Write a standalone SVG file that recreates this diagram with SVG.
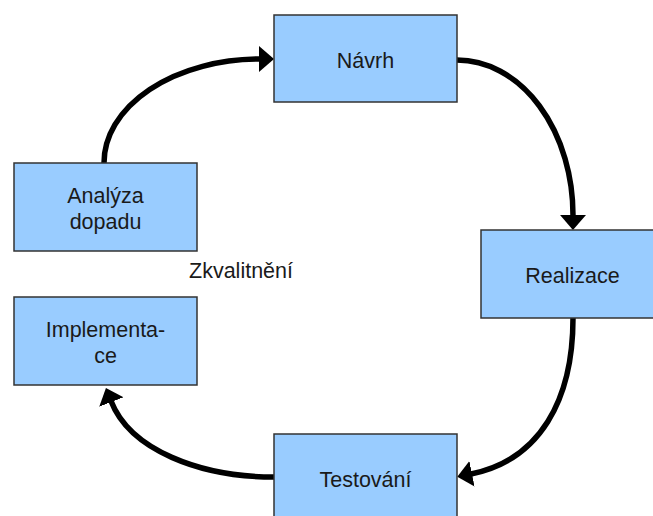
<svg xmlns="http://www.w3.org/2000/svg" width="653" height="516" viewBox="0 0 653 516">
<style>
.box{fill:#99ccff;stroke:#333;stroke-width:1.5}
.t{font-family:"Liberation Sans",Arial,sans-serif;font-size:21.5px;fill:#1a1a1a;text-anchor:middle}
.c{fill:none;stroke:#000;stroke-width:5.5}
</style>
<defs>
<marker id="ah" markerUnits="userSpaceOnUse" markerWidth="16" markerHeight="26" refX="1" refY="13" orient="auto" viewBox="0 0 16 26">
<path d="M0,0 L15,13 L0,26 z" fill="#000"/>
</marker>
</defs>
<rect width="653" height="516" fill="#fff"/>
<g id="connectors">
<path class="c" d="M104,163 A156,104 0 0 1 260,59" marker-end="url(#ah)"/>
<path class="c" d="M457,60 A116,155 0 0 1 573,216" marker-end="url(#ah)"/>
<path class="c" d="M573,318 C573,400 540,460 471,474" marker-end="url(#ah)"/>
<path class="c" d="M274,477 C200,477 130,450 111,401" marker-end="url(#ah)"/>
</g>
<g id="navrh">
<rect class="box" x="274" y="15" width="183" height="87"/>
<text class="t" x="365.5" y="68">Návrh</text>
</g>
<g id="analyza">
<rect class="box" x="14" y="163" width="183" height="88"/>
<text class="t" x="105.5" y="203">Analýza</text>
<text class="t" x="105.5" y="229">dopadu</text>
</g>
<g id="realizace">
<rect class="box" x="481" y="230" width="183" height="88"/>
<text class="t" x="572.5" y="283">Realizace</text>
</g>
<g id="testovani">
<rect class="box" x="274" y="434" width="183" height="88"/>
<text class="t" x="365.5" y="487">Testování</text>
</g>
<g id="implementace">
<rect class="box" x="14" y="297" width="183" height="88"/>
<text class="t" x="105.5" y="337">Implementa-</text>
<text class="t" x="105.5" y="363">ce</text>
</g>
<g id="zkvalitneni">
<text class="t" x="241" y="278">Zkvalitnění</text>
</g>
</svg>
